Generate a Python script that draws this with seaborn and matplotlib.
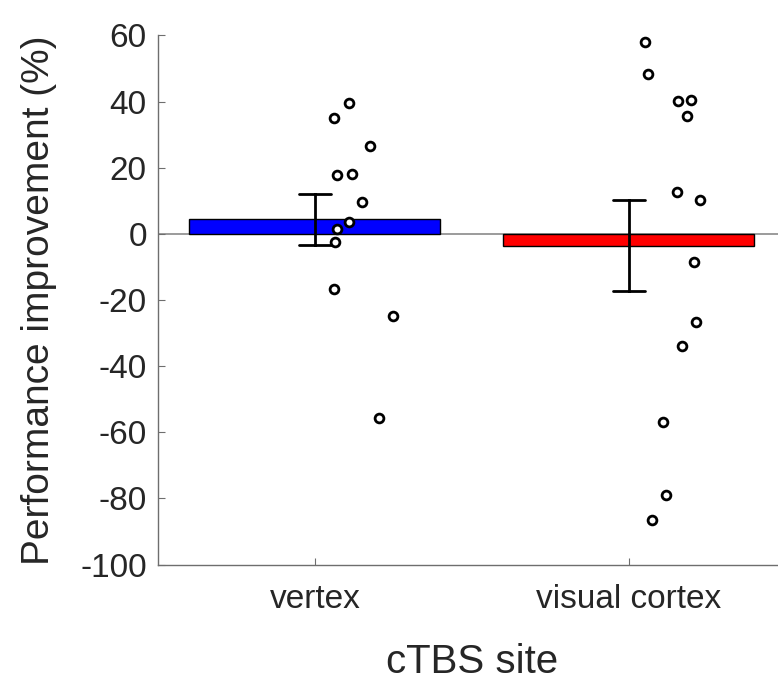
import pandas as pd
import seaborn as sns
import matplotlib.pyplot as plt

# values (% improvement per participant)
sites = ['vertex', 'visual cortex']
vertex_vals = [39.7, 35.0, 26.6, 17.7, 18.1, 9.7, 3.7, 1.6, -2.6, -16.6, -24.7, -55.6]
visual_vals = [57.9, 48.2, 40.1, 40.6, 35.5, 12.6, 10.1, -8.5, -26.8, -33.9, -56.8, -78.9, -86.4]
# horizontal jitter of each dot (in category units), as seen in the figure
vertex_jitter = [0.109, 0.060, 0.175, 0.069, 0.118, 0.150, 0.109, 0.070, 0.065, 0.060, 0.248, 0.203]
visual_jitter = [0.051, 0.060, 0.157, 0.197, 0.184, 0.152, 0.228, 0.207, 0.215, 0.171, 0.108, 0.118, 0.073]
bar_colors = ['#0000ff', '#ff0000']
yticks = [-100, -80, -60, -40, -20, 0, 20, 40, 60]

df = pd.DataFrame({
    'site': [sites[0]] * len(vertex_vals) + [sites[1]] * len(visual_vals),
    'value': vertex_vals + visual_vals,
    'jitter': vertex_jitter + visual_jitter,
})
df['xpos'] = df['site'].map({s: i for i, s in enumerate(sites)}) + df['jitter']

sns.set_style('white')
plt.rcParams['font.family'] = ['Liberation Sans', 'DejaVu Sans']

fig = plt.figure(figsize=(7.78, 6.81), dpi=100)
ax = fig.add_axes([0.203, 0.171, 0.807, 0.777])

ax.axhline(0, color='#808080', lw=1.1, zorder=0)

sns.barplot(data=df, x='site', y='value', hue='site', palette=bar_colors,
            order=sites, legend=False, errorbar='se', capsize=0.1, width=0.8,
            saturation=1, edgecolor='black', linewidth=1.0, ax=ax,
            err_kws={'color': 'black', 'linewidth': 2.0})

sns.scatterplot(data=df, x='xpos', y='value', marker='o', s=40,
                facecolor='white', edgecolor='black', linewidth=2.0,
                zorder=5, legend=False, ax=ax)

ax.set_xlim(-0.5, 1.5)
ax.set_ylim(-100, 60)
ax.set_xticks([0, 1])
ax.set_xticklabels(sites)
ax.set_yticks(yticks)
ax.set_yticklabels([str(t) for t in yticks])

sns.despine(ax=ax)
for sp in ['left', 'bottom']:
    ax.spines[sp].set_color('#6e6e6e')
    ax.spines[sp].set_linewidth(1.0)
ax.tick_params(bottom=True, left=True, direction='in', length=5, width=0.8,
               color='#6e6e6e', labelsize=24, labelcolor='#262626')
ax.tick_params(axis='y', pad=8)
ax.tick_params(axis='x', pad=14)

ax.set_xlabel('cTBS site', fontsize=29, color='#262626', labelpad=20)
ax.set_ylabel('Performance improvement (%)', fontsize=28, color='#262626', labelpad=17)

fig.savefig('out.png', dpi=100)
